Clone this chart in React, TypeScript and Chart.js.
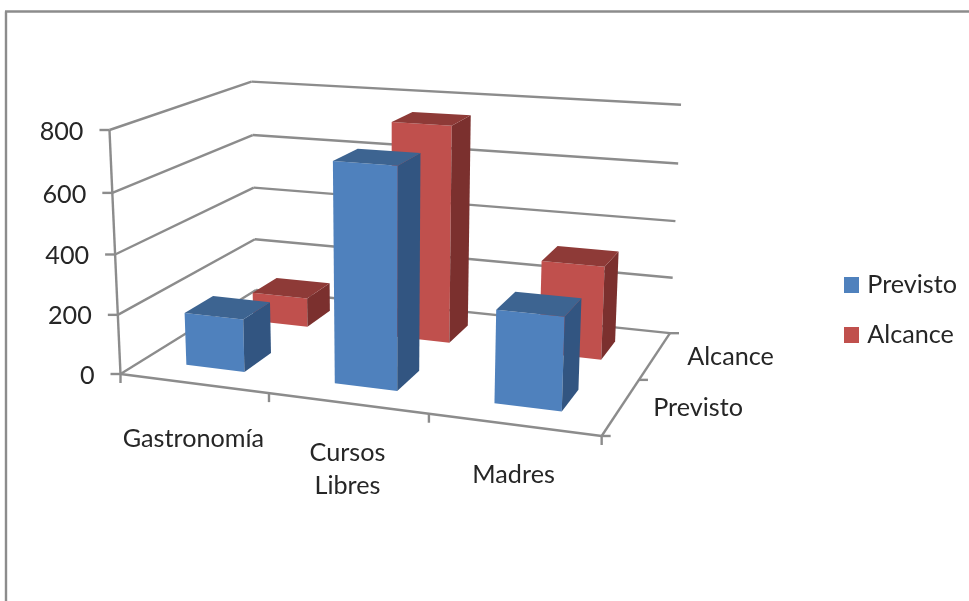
import React, { useEffect, useRef } from "react";
import { Chart, BarController, registerables } from "chart.js";

const categories: (string | string[])[] = ["Gastronomía", ["Cursos", "Libres"], "Madres"];
const seriesNames = ["Previsto", "Alcance"];
const previsto = [178, 718, 298];
const alcance = [104, 751, 318];
const valueTicks = { min: 0, max: 800, step: 200 };

const FONT = "Lato, 'Open Sans', sans-serif";
const FONT_SIZE = 25.2;
const TEXT = "#262626";
const LINE = "#8c8c8c";
const BAR_FILL = 0.4;
const SWATCH = 15;

// Homogeneous camera for the unit box: u along categories, w along series, t up the value axis.
function project(u: number, w: number, t: number): [number, number] {
  const den = 1 - 0.1073 * u + 0.18 * w - 0.04 * t;
  return [
    (120.5 + 416.6 * u + 181.6 * w - 15.4 * t) / den,
    (374 + 15.2 * u - 31.8 * w - 249.2 * t) / den,
  ];
}

// Position of a value along its scale, from 0 to 1.
function frac(scale: any, value: number) {
  return scale.getDecimalForPixel(scale.getPixelForValue(value));
}

function polygon(ctx: CanvasRenderingContext2D, pts: [number, number][], fill: string) {
  ctx.beginPath();
  pts.forEach(([x, y], i) => (i ? ctx.lineTo(x, y) : ctx.moveTo(x, y)));
  ctx.closePath();
  ctx.fillStyle = fill;
  ctx.fill();
}

function segment(ctx: CanvasRenderingContext2D, a: [number, number], b: [number, number]) {
  ctx.beginPath();
  ctx.moveTo(a[0], a[1]);
  ctx.lineTo(b[0], b[1]);
  ctx.stroke();
}

// Square legend marker, kept as a small canvas so it can sit tighter against its text.
function swatch(color: string) {
  const c = document.createElement("canvas");
  c.width = SWATCH;
  c.height = SWATCH + 1;
  const g = c.getContext("2d") as CanvasRenderingContext2D;
  g.fillStyle = color;
  g.fillRect(0, 0, c.width, c.height);
  return c;
}

// Bar controller that renders each data point as a cuboid on the projected floor.
class Bar3DController extends BarController {
  static id = "bar3d";

  draw() {
    const chart = this.chart as any;
    const ctx = chart.ctx as CanvasRenderingContext2D;
    const xs = chart.scales.x;
    const ys = chart.scales.y;
    const ds = chart.scales.depth;
    const dataset = this.getDataset() as any;
    const wMid = frac(ds, this.index);
    const halfW = (BAR_FILL / ds.getLabels().length) / 2;
    const halfU = (BAR_FILL / xs.getLabels().length) / 2;

    (dataset.data as number[]).forEach((value, i) => {
      const uMid = frac(xs, i);
      const t = frac(ys, value);
      const [u0, u1, w0, w1] = [uMid - halfU, uMid + halfU, wMid - halfW, wMid + halfW];
      polygon(ctx, [project(u0, w0, 0), project(u1, w0, 0), project(u1, w0, t), project(u0, w0, t)], dataset.backgroundColor);
      polygon(ctx, [project(u1, w0, 0), project(u1, w1, 0), project(u1, w1, t), project(u1, w0, t)], dataset.sideColor);
      polygon(ctx, [project(u0, w0, t), project(u1, w0, t), project(u1, w1, t), project(u0, w1, t)], dataset.topColor);
    });
  }
}

// Chart frame, walls, floor, and axis ticks, all placed from the chart's scales.
const frameAndWalls = {
  id: "frameAndWalls",
  beforeDatasetsDraw(chart: any) {
    const ctx = chart.ctx as CanvasRenderingContext2D;
    const xs = chart.scales.x;
    const ys = chart.scales.y;
    const ds = chart.scales.depth;
    ctx.save();
    ctx.strokeStyle = LINE;
    ctx.lineWidth = 2.4;
    ctx.lineCap = "butt";

    segment(ctx, [6, 601], [6, 11.5]);
    segment(ctx, [5, 11.5], [969, 11.5]);

    ys.ticks.forEach((tick: any) => {
      const t = frac(ys, tick.value);
      const front = project(0, 0, t);
      const back = project(0, 1, t);
      segment(ctx, front, back);
      segment(ctx, back, project(1, 1, t));
      segment(ctx, [front[0] - 10, front[1]], front);
    });
    segment(ctx, project(0, 0, 0), project(0, 0, 1));
    segment(ctx, project(0, 0, 0), project(1, 0, 0));
    segment(ctx, project(1, 0, 0), project(1, 1, 0));

    const nCat = xs.getLabels().length;
    for (let i = 0; i <= nCat; i++) {
      const p = project(i / nCat, 0, 0);
      segment(ctx, p, [p[0], p[1] + 9]);
    }
    const nDepth = ds.getLabels().length;
    for (let i = 0; i <= nDepth; i++) {
      const p = project(1, i / nDepth, 0);
      segment(ctx, p, [p[0] + 9, p[1]]);
    }
    ctx.restore();
  },
  afterDatasetsDraw(chart: any) {
    const ctx = chart.ctx as CanvasRenderingContext2D;
    const xs = chart.scales.x;
    const ys = chart.scales.y;
    const ds = chart.scales.depth;
    ctx.save();
    ctx.font = `${FONT_SIZE}px ${FONT}`;
    ctx.fillStyle = TEXT;
    ctx.textBaseline = "middle";

    ctx.textAlign = "right";
    ys.ticks.forEach((tick: any) => {
      const p = project(0, 0, frac(ys, tick.value));
      ctx.fillText(String(tick.label), p[0] - 26, p[1] + 1.5);
    });

    ctx.textAlign = "center";
    const drops = [55, 50, 50];
    const lineGap = 33;
    xs.ticks.forEach((tick: any, i: number) => {
      const p = project(frac(xs, i), 0, 0);
      const lines: string[] = Array.isArray(tick.label) ? tick.label : [tick.label];
      lines.forEach((line, k) => ctx.fillText(line, p[0], p[1] + drops[i] + k * lineGap));
    });

    ctx.textAlign = "left";
    ds.ticks.forEach((tick: any, i: number) => {
      const p = project(1, frac(ds, i), 0);
      ctx.fillText(String(tick.label), p[0] + 32, p[1] + 1);
    });
    ctx.restore();
  },
};

Chart.register(...registerables, Bar3DController);

export default function App() {
  const canvasRef = useRef<HTMLCanvasElement>(null);

  useEffect(() => {
    const chart = new Chart(canvasRef.current as HTMLCanvasElement, {
      type: "bar3d" as any,
      data: {
        labels: categories as any,
        datasets: [
          { label: seriesNames[0], data: previsto, backgroundColor: "#4f81bd", sideColor: "#325581", topColor: "#3d6491" } as any,
          { label: seriesNames[1], data: alcance, backgroundColor: "#c0504d", sideColor: "#7b302e", topColor: "#8e3a37" } as any,
        ],
      },
      options: {
        responsive: false,
        animation: false,
        events: [],
        layout: { padding: { top: 18, right: 2, left: 0, bottom: 0 } },
        scales: {
          x: { type: "category", offset: true, display: false, ticks: { autoSkip: false } },
          y: {
            type: "linear",
            min: valueTicks.min,
            max: valueTicks.max,
            display: false,
            ticks: { stepSize: valueTicks.step, autoSkip: false },
          },
          depth: { type: "category", axis: "x", labels: seriesNames, offset: true, display: false, ticks: { autoSkip: false } },
        } as any,
        plugins: {
          tooltip: { enabled: false },
          title: { display: false },
          legend: {
            display: true,
            position: "right",
            labels: {
              usePointStyle: true,
              pointStyleWidth: 5.4,
              boxHeight: SWATCH,
              padding: 24.8,
              color: TEXT,
              font: { family: FONT, size: FONT_SIZE },
              generateLabels: (c: any) =>
                (Chart.defaults.plugins.legend.labels as any)
                  .generateLabels(c)
                  .map((item: any) => ({ ...item, pointStyle: swatch(item.fillStyle) })),
            },
          },
        },
      },
      plugins: [frameAndWalls],
    });
    return () => chart.destroy();
  }, []);

  return (
    <div style={{ position: "fixed", left: 0, top: 0, width: 969, height: 601, background: "#fff" }}>
      <canvas ref={canvasRef} width={969} height={601} style={{ display: "block" }} />
    </div>
  );
}
